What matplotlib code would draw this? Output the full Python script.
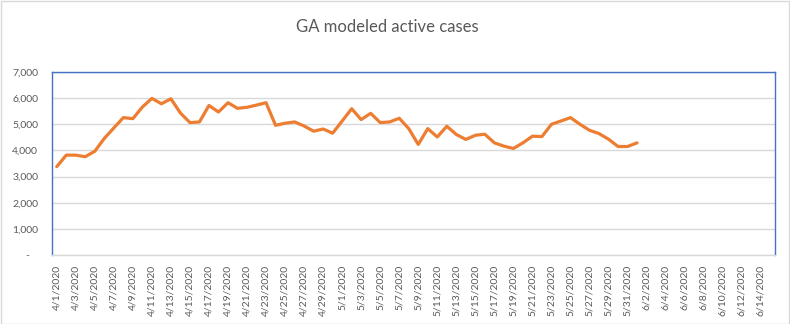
import matplotlib
matplotlib.use("Agg")
import matplotlib.pyplot as plt
import matplotlib.patches as mpatches
import pandas as pd

# Category axis: every day from 4/1/2020 through 6/15/2020
dates = pd.date_range("2020-04-01", "2020-06-15", freq="D")
date_labels = [f"{d.month}/{d.day}/{d.year}" for d in dates]

# Modeled active cases, 4/1/2020 .. 6/1/2020
active_cases = [
    3380, 3820, 3820, 3760, 3970, 4460, 4860, 5255, 5215, 5660,
    5990, 5785, 5975, 5430, 5065, 5090, 5720, 5470, 5825, 5610,
    5650, 5735, 5825, 4960, 5040, 5090, 4935, 4735, 4820, 4660,
    5125, 5595, 5180, 5420, 5065, 5090, 5230, 4835, 4230, 4835,
    4515, 4925, 4610, 4420, 4580, 4620, 4290, 4165, 4075, 4290,
    4545, 4530, 5000, 5125, 5255, 5000, 4770, 4645, 4430, 4150,
    4150, 4290,
]

y_ticks = [0, 1000, 2000, 3000, 4000, 5000, 6000, 7000]

TEXT = "#595959"
GRID = "#D9D9D9"
BLUE = "#4472C4"
ORANGE = "#ED7D31"

plt.rcParams["font.family"] = ["Lato", "DejaVu Sans"]

fig = plt.figure(figsize=(7.9, 3.24), dpi=100)
ax = fig.add_axes([52 / 790, 1 - 255 / 324, (775 - 52) / 790, (255 - 72) / 324])

x = list(range(len(active_cases)))
ax.plot(x, active_cases, color=ORANGE, lw=2.3, solid_joinstyle="round",
        solid_capstyle="round", zorder=3)

ax.set_xlim(-0.5, len(date_labels) - 0.5)
ax.set_ylim(0, 7000)

ax.set_yticks(y_ticks)
ax.set_yticklabels([f"{v:,}" if v else "-   " for v in y_ticks])
ax.yaxis.grid(True, color=GRID, lw=1.0)
ax.set_axisbelow(True)

xt = list(range(0, len(date_labels), 2))
ax.set_xticks(xt)
ax.set_xticklabels([date_labels[i] for i in xt], rotation=90)

ax.tick_params(axis="both", length=0, labelsize=7.5, colors=TEXT)
ax.tick_params(axis="y", pad=10)
ax.tick_params(axis="x", pad=7)

for side in ("left", "top", "right"):
    ax.spines[side].set_color(BLUE)
    ax.spines[side].set_linewidth(1.0)
ax.spines["bottom"].set_color(GRID)
ax.spines["bottom"].set_linewidth(1.0)

fig.text(0.49, 1 - 27 / 324, "GA modeled active cases", ha="center",
         va="center", fontsize=12, color=TEXT)

# Light chart-area frame
fig.patches.append(mpatches.Rectangle((0.5 / 790, 0.5 / 324), 1 - 1.5 / 790,
                                      1 - 1.5 / 324, transform=fig.transFigure,
                                      fill=False, edgecolor=GRID, lw=1.0))

fig.savefig("out.png", dpi=100, facecolor="white")
